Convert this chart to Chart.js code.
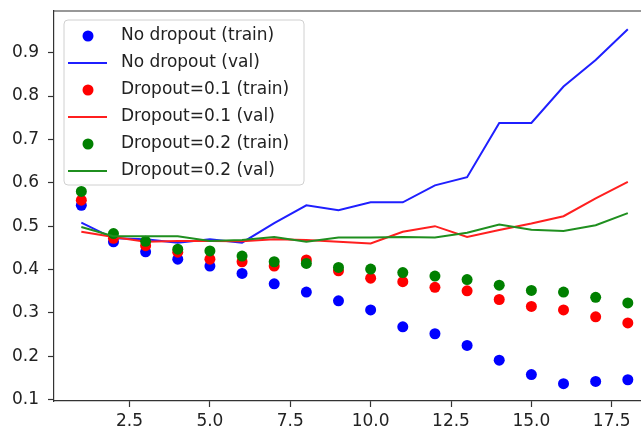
<!DOCTYPE html>
<html>
<head>
<meta charset="utf-8">
<script src="https://cdn.jsdelivr.net/npm/chart.js@4/dist/chart.umd.min.js"></script>
<style>
  html, body { margin: 0; padding: 0; background: #fff; overflow: hidden; }
  canvas { display: block; }
</style>
</head>
<body>
<canvas id="chart" width="641" height="430"></canvas>
<script>
// loss curves
const epochs = [1, 2, 3, 4, 5, 6, 7, 8, 9, 10, 11, 12, 13, 14, 15, 16, 17, 18];

const noDropTrain = [0.548, 0.464, 0.441, 0.424, 0.408, 0.391, 0.367, 0.348, 0.328, 0.307, 0.268, 0.252, 0.225, 0.191, 0.158, 0.137, 0.142, 0.146];
const noDropVal = [0.508, 0.472, 0.470, 0.462, 0.470, 0.462, 0.507, 0.548, 0.537, 0.555, 0.555, 0.594, 0.613, 0.738, 0.738, 0.822, 0.883, 0.954];
const drop1Train = [0.560, 0.472, 0.455, 0.440, 0.424, 0.418, 0.408, 0.422, 0.397, 0.380, 0.372, 0.359, 0.351, 0.331, 0.315, 0.307, 0.291, 0.277];
const drop1Val = [0.487, 0.475, 0.464, 0.466, 0.466, 0.465, 0.470, 0.468, 0.464, 0.460, 0.487, 0.500, 0.475, 0.491, 0.506, 0.523, 0.564, 0.602];
const drop2Train = [0.580, 0.483, 0.465, 0.447, 0.443, 0.431, 0.418, 0.414, 0.405, 0.401, 0.393, 0.385, 0.377, 0.364, 0.352, 0.348, 0.336, 0.323];
const drop2Val = [0.498, 0.477, 0.477, 0.477, 0.466, 0.468, 0.475, 0.464, 0.474, 0.474, 0.475, 0.474, 0.485, 0.504, 0.492, 0.489, 0.502, 0.530];

const seriesLabels = ['No dropout (train)', 'No dropout (val)', 'Dropout=0.1 (train)', 'Dropout=0.1 (val)', 'Dropout=0.2 (train)', 'Dropout=0.2 (val)'];
const seriesData = [noDropTrain, noDropVal, drop1Train, drop1Val, drop2Train, drop2Val];
const seriesColors = ['#0000ff', '#1f1fff', '#ff0000', '#ff1f1f', '#008000', '#1f8f1f'];

const xTicks = [2.5, 5.0, 7.5, 10.0, 12.5, 15.0, 17.5];
const yTicks = [0.1, 0.2, 0.3, 0.4, 0.5, 0.6, 0.7, 0.8, 0.9];

const FONT = '"DejaVu Sans", sans-serif';
const AXIS = '#333333';

const datasets = seriesData.map((values, i) => {
  const isTrain = i % 2 === 0;
  return {
    label: seriesLabels[i],
    data: epochs.map((x, j) => ({ x: x, y: values[j] })),
    showLine: !isTrain,
    borderColor: seriesColors[i],
    backgroundColor: seriesColors[i],
    borderWidth: isTrain ? 0 : 2,
    pointRadius: isTrain ? 5.5 : 0,
    pointHoverRadius: isTrain ? 5.5 : 0,
    pointBorderWidth: 0,
    tension: 0,
    order: seriesData.length - i
  };
});

// drop the label padding chart.js adds, so the plot box sits where matplotlib put it
function noPad(axis) {
  axis.paddingTop = 0;
  axis.paddingBottom = 0;
  axis.paddingLeft = 0;
  axis.paddingRight = 0;
}

// matplotlib style frame line and legend box
const framePlugin = {
  id: 'frame',
  afterDraw(chart) {
    const ctx = chart.ctx;
    const area = chart.chartArea;
    ctx.save();
    ctx.strokeStyle = AXIS;
    ctx.lineWidth = 1.2;
    ctx.beginPath();
    ctx.moveTo(area.left, area.top);
    ctx.lineTo(area.right, area.top);
    ctx.stroke();

    // legend
    const bx = 64, by = 20, bw = 240, bh = 165, r = 4;
    ctx.beginPath();
    ctx.moveTo(bx + r, by);
    ctx.lineTo(bx + bw - r, by);
    ctx.quadraticCurveTo(bx + bw, by, bx + bw, by + r);
    ctx.lineTo(bx + bw, by + bh - r);
    ctx.quadraticCurveTo(bx + bw, by + bh, bx + bw - r, by + bh);
    ctx.lineTo(bx + r, by + bh);
    ctx.quadraticCurveTo(bx, by + bh, bx, by + bh - r);
    ctx.lineTo(bx, by + r);
    ctx.quadraticCurveTo(bx, by, bx + r, by);
    ctx.closePath();
    ctx.fillStyle = 'rgba(255,255,255,0.8)';
    ctx.fill();
    ctx.strokeStyle = '#d0d0d0';
    ctx.lineWidth = 1;
    ctx.stroke();

    ctx.font = '17px ' + FONT;
    ctx.textBaseline = 'middle';
    ctx.textAlign = 'left';
    seriesLabels.forEach((label, i) => {
      const y = 36 + i * 27;
      if (i % 2 === 0) {
        ctx.fillStyle = seriesColors[i];
        ctx.beginPath();
        ctx.arc(88, y, 5.5, 0, Math.PI * 2);
        ctx.fill();
      } else {
        ctx.strokeStyle = seriesColors[i];
        ctx.lineWidth = 2;
        ctx.beginPath();
        ctx.moveTo(68, y);
        ctx.lineTo(107, y);
        ctx.stroke();
      }
      ctx.fillStyle = '#222222';
      ctx.fillText(label, 121, y);
    });
    ctx.restore();
  }
};

new Chart(document.getElementById('chart').getContext('2d'), {
  type: 'scatter',
  data: { datasets: datasets },
  options: {
    responsive: false,
    animation: false,
    events: [],
    layout: { autoPadding: false, padding: { top: 11, right: 0, left: 0, bottom: 0 } },
    plugins: {
      legend: { display: false },
      tooltip: { enabled: false }
    },
    scales: {
      x: {
        type: 'linear',
        min: 0.15,
        max: 18.41,
        afterBuildTicks: axis => { axis.ticks = xTicks.map(v => ({ value: v })); },
        afterFit: axis => { axis.height = 29; noPad(axis); },
        grid: { drawOnChartArea: false, drawTicks: true, tickLength: 6, tickColor: AXIS, tickWidth: 1.2 },
        border: { display: true, color: AXIS, width: 1.2 },
        ticks: {
          color: '#222222',
          font: { family: FONT, size: 17 },
          padding: 4,
          maxRotation: 0,
          callback: v => v.toFixed(1)
        }
      },
      y: {
        type: 'linear',
        min: 0.097,
        max: 0.996,
        afterBuildTicks: axis => { axis.ticks = yTicks.map(v => ({ value: v })); },
        afterFit: axis => { axis.width = 54; noPad(axis); },
        grid: { drawOnChartArea: false, drawTicks: true, tickLength: 6, tickColor: AXIS, tickWidth: 1.2 },
        border: { display: true, color: AXIS, width: 1.2 },
        ticks: {
          color: '#222222',
          font: { family: FONT, size: 17 },
          padding: 9,
          callback: v => v.toFixed(1)
        }
      }
    }
  },
  plugins: [framePlugin]
});
</script>
</body>
</html>
